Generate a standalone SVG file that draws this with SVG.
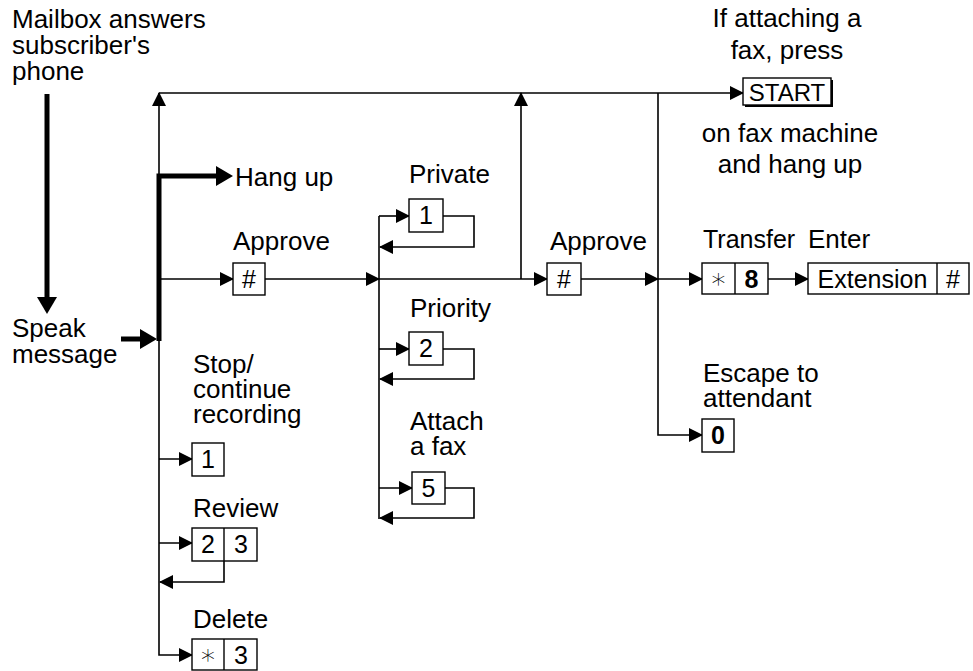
<svg xmlns="http://www.w3.org/2000/svg" width="973" height="671" viewBox="0 0 973 671">
  <style>
    text { font-family: "Liberation Sans", Arial, sans-serif; font-size: 26px; fill: #000; }
    .mid { text-anchor: middle; }
    .key { text-anchor: middle; font-size: 25px; }
    .bold { font-weight: bold; }
    .star { font-family: "DejaVu Sans", sans-serif; font-size: 28px; font-weight: 200; }
    .box { fill: #fff; stroke: #000; stroke-width: 1.4; }
    .div { stroke: #000; stroke-width: 1.4; }
    .thin { fill: none; stroke: #000; stroke-width: 1.6; }
    .thick { fill: none; stroke: #000; stroke-width: 5; }
  </style>
  <defs>
    <marker id="arr" markerUnits="userSpaceOnUse" markerWidth="14" markerHeight="14" refX="13" refY="7" orient="auto">
      <path d="M0,0 L14,7 L0,14 z" fill="#000"/>
    </marker>
    <marker id="arrBig" markerUnits="userSpaceOnUse" markerWidth="17" markerHeight="20" refX="0" refY="10" orient="auto">
      <path d="M0,0 L17,10 L0,20 z" fill="#000"/>
    </marker>
  </defs>

  <!-- connectors -->
  <g id="connectors">
    <!-- heavy path: answer, speak, hang up -->
    <path class="thick" d="M47,94 V297" marker-end="url(#arrBig)"/>
    <path class="thick" d="M121,339 H140" marker-end="url(#arrBig)"/>
    <path class="thick" d="M159,341 V176 H216" marker-end="url(#arrBig)"/>

    <!-- recording spine and its options -->
    <path class="thin" d="M159,339 V93" marker-end="url(#arr)"/>
    <path class="thin" d="M159,93 H743" marker-end="url(#arr)"/>
    <path class="thin" d="M159,339 V655 H192" marker-end="url(#arr)"/>
    <path class="thin" d="M159,459 H192" marker-end="url(#arr)"/>
    <path class="thin" d="M159,543 H192" marker-end="url(#arr)"/>
    <path class="thin" d="M224,561 V582 H160" marker-end="url(#arr)"/>
    <path class="thin" d="M159,279 H233" marker-end="url(#arr)"/>

    <!-- first approve to options spine -->
    <path class="thin" d="M265,279 H379" marker-end="url(#arr)"/>
    <path class="thin" d="M379,279 H547" marker-end="url(#arr)"/>
    <path class="thin" d="M521,279 V93" marker-end="url(#arr)"/>
    <path class="thin" d="M379,216 V519"/>
    <path class="thin" d="M379,216 H409" marker-end="url(#arr)"/>
    <path class="thin" d="M443,216 H474 V247 H380" marker-end="url(#arr)"/>
    <path class="thin" d="M379,349 H409" marker-end="url(#arr)"/>
    <path class="thin" d="M443,349 H474 V379 H380" marker-end="url(#arr)"/>
    <path class="thin" d="M379,488 H412" marker-end="url(#arr)"/>
    <path class="thin" d="M445,488 H474 V518 H380" marker-end="url(#arr)"/>

    <!-- second approve to transfer / escape -->
    <path class="thin" d="M581,279 H658" marker-end="url(#arr)"/>
    <path class="thin" d="M658,279 H702" marker-end="url(#arr)"/>
    <path class="thin" d="M658,93 V435 H702" marker-end="url(#arr)"/>
    <path class="thin" d="M768,279 H808" marker-end="url(#arr)"/>
  </g>

  <!-- labels on the heavy path -->
  <g id="answer">
    <text x="12" y="28">Mailbox answers<tspan x="12" y="54">subscriber's</tspan><tspan x="12" y="80">phone</tspan></text>
  </g>
  <g id="speak">
    <text x="12" y="337">Speak<tspan x="12" y="363">message</tspan></text>
  </g>
  <g id="hangup">
    <text x="235" y="186">Hang up</text>
  </g>

  <!-- recording options -->
  <g id="stop">
    <text x="193" y="373">Stop/<tspan x="193" y="398">continue</tspan><tspan x="193" y="423">recording</tspan></text>
    <rect class="box" x="192" y="443" width="32" height="33"/>
    <text class="key" x="208" y="468">1</text>
  </g>
  <g id="review">
    <text x="193" y="517">Review</text>
    <rect class="box" x="192" y="528" width="65" height="33"/>
    <line class="div" x1="224" y1="528" x2="224" y2="561"/>
    <text class="key" x="208" y="553">2</text>
    <text class="key" x="241" y="553">3</text>
  </g>
  <g id="delete">
    <text x="193" y="628">Delete</text>
    <rect class="box" x="192" y="639" width="65" height="31"/>
    <line class="div" x1="224" y1="639" x2="224" y2="670"/>
    <text class="key star" x="208" y="664">∗</text>
    <text class="key" x="241" y="664">3</text>
  </g>
  <g id="approve1">
    <text x="233" y="250">Approve</text>
    <rect class="box" x="233" y="263" width="32" height="32"/>
    <text class="key" x="249" y="288">#</text>
  </g>

  <!-- message options -->
  <g id="private">
    <text x="409" y="183">Private</text>
    <rect class="box" x="409" y="199" width="34" height="33"/>
    <text class="key" x="426" y="224">1</text>
  </g>
  <g id="priority">
    <text x="410" y="317">Priority</text>
    <rect class="box" x="409" y="332" width="34" height="33"/>
    <text class="key" x="426" y="357">2</text>
  </g>
  <g id="attach">
    <text x="410" y="430">Attach<tspan x="410" y="455">a fax</tspan></text>
    <rect class="box" x="412" y="472" width="33" height="32"/>
    <text class="key" x="428.5" y="497">5</text>
  </g>
  <g id="approve2">
    <text x="550" y="250">Approve</text>
    <rect class="box" x="547" y="263" width="34" height="32"/>
    <text class="key" x="564" y="288">#</text>
  </g>

  <!-- send options -->
  <g id="start">
    <text class="mid" x="787" y="27">If attaching a<tspan x="787" y="59">fax, press</tspan></text>
    <rect x="745" y="80" width="88" height="27" fill="#000"/>
    <rect class="box" x="743" y="78" width="88" height="27"/>
    <text class="mid" x="787" y="101" style="font-size:24px">START</text>
    <text class="mid" x="790" y="142">on fax machine<tspan x="790" y="173">and hang up</tspan></text>
  </g>
  <g id="transfer">
    <text x="703" y="248" style="font-size:25px">Transfer</text>
    <rect class="box" x="702" y="263" width="66" height="31"/>
    <line class="div" x1="735" y1="263" x2="735" y2="294"/>
    <text class="key star" x="718.5" y="288">∗</text>
    <text class="key bold" x="751.5" y="288">8</text>
  </g>
  <g id="extension">
    <text x="808" y="248">Enter</text>
    <rect class="box" x="808" y="263" width="161" height="31"/>
    <line class="div" x1="937" y1="263" x2="937" y2="294"/>
    <text class="key" x="872.5" y="288">Extension</text>
    <text class="key" x="953" y="288">#</text>
  </g>
  <g id="escape">
    <text x="703" y="382">Escape to<tspan x="703" y="407">attendant</tspan></text>
    <rect class="box" x="702" y="419" width="32" height="33"/>
    <text class="key bold" x="718" y="444">0</text>
  </g>
</svg>
